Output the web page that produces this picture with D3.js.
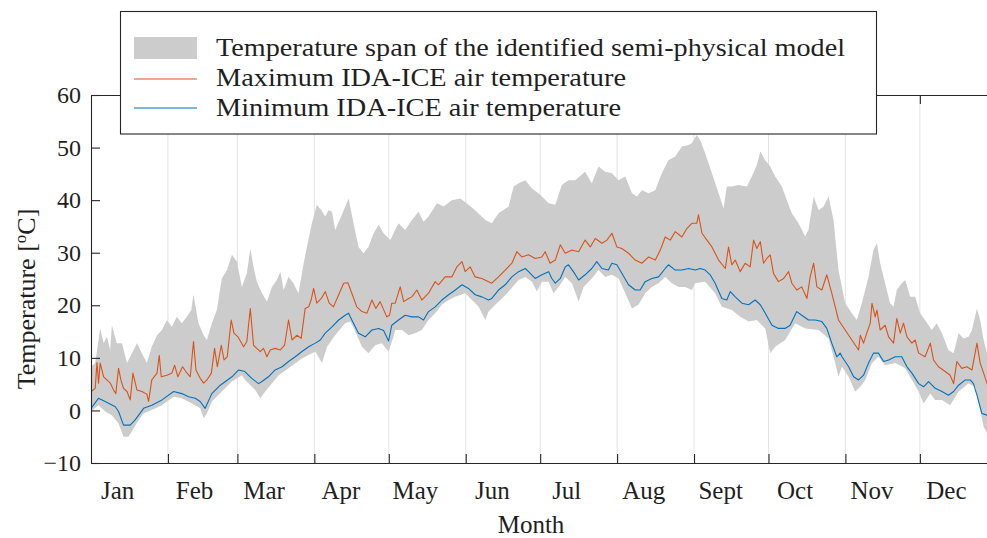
<!DOCTYPE html>
<html><head><meta charset="utf-8">
<script src="https://cdn.jsdelivr.net/npm/d3@7"></script>
<style>
html,body{margin:0;padding:0;background:#fff;}
svg{display:block;}
text{font-family:"Liberation Serif","Times New Roman",serif;fill:#1f1f1f;}
</style></head>
<body><svg id="chart" width="987" height="538"></svg>
<script>
const months = ["Jan","Feb","Mar","Apr","May","Jun","Jul","Aug","Sept","Oct","Nov","Dec"];
const monthStarts = [0,31,59,90,120,151,181,212,243,273,304,334];
const yTicks = [-10,0,10,20,30,40,50,60];
const legendLabels = ["Temperature span of the identified semi-physical model","Maximum IDA-ICE air temperature","Minimum IDA-ICE air temperature"];

// [day of year, °C]
const spanTop = [[0,8.3],[1.7,9.0],[3.7,15.6],[5.1,12.8],[6.4,14.0],[7.75,11.5],[8.4,16.2],[10.4,12.8],[12.5,12.8],[14.5,9.0],[16.5,10.9],[18.5,12.8],[21.2,10.2],[22.5,9.0],[24.5,12.1],[26.6,14.3],[28.6,15.3],[30.6,17.2],[32.6,15.9],[34.6,17.8],[36.6,16.6],[38.6,17.8],[40.4,19.1],[41.3,22.0],[43.3,16.6],[45.4,14.3],[46.7,13.4],[48.7,16.6],[50.7,19.1],[52.7,25.1],[54.8,26.7],[56.8,29.6],[58.8,28.3],[60.8,23.5],[62.8,26.1],[64.2,30.8],[65.5,27.3],[66.8,24.5],[68.9,22.3],[70.9,20.7],[72.9,23.5],[74.9,24.8],[76.3,26.4],[77.6,22.9],[79.6,25.4],[81.6,24.2],[83.6,22.3],[85.7,28.0],[87,31.1],[89,35.6],[91,39.1],[92.8,38.1],[94.4,36.9],[95.7,38.1],[97.1,37.8],[98.4,34.3],[101.1,37.2],[103.8,40.3],[105.8,35.6],[107.8,31.1],[109.8,29.9],[111.8,31.1],[113.9,33.7],[115.9,35.3],[117.9,33.7],[120.6,32.4],[123.9,35.6],[126.6,34.3],[129.3,36.2],[132,37.8],[134,35.9],[136,36.9],[139.4,39.4],[142.1,38.8],[145.4,40.0],[148.8,40.3],[152.1,39.1],[154.8,38.1],[158.9,36.2],[161.5,35.6],[164.2,37.5],[168.3,38.8],[170.3,42.6],[172.3,43.2],[175,43.8],[177.7,42.2],[180.3,41.3],[181.7,40.7],[184.4,39.4],[187.1,39.1],[189.7,42.9],[192.4,43.8],[195.1,43.8],[199.1,45.4],[201.8,43.2],[204.5,46.4],[207.2,45.4],[209.9,45.1],[212.6,43.8],[215.3,44.5],[218,41.3],[220,40.7],[222,41.9],[224.7,41.3],[227.4,41.9],[230,45.1],[232.7,47.6],[235.4,48.3],[238.1,50.2],[240.8,50.5],[242.1,50.8],[244.1,52.4],[245.5,51.4],[247.5,48.9],[250.2,45.1],[252.9,41.3],[254.9,38.4],[256.2,42.6],[258.2,42.6],[260.9,42.9],[264.3,42.6],[266.3,44.5],[268.3,46.7],[269.7,49.2],[271.7,47.6],[273.7,46.4],[275.7,44.5],[278.4,42.6],[280.4,40.0],[282.4,37.5],[285.1,35.6],[287.8,33.1],[289.1,34.3],[291.2,40.7],[293.2,38.1],[295.2,38.8],[297.2,40.7],[299.2,36.2],[301.2,26.7],[303.9,20.4],[306.6,18.5],[308.6,17.2],[310.6,20.4],[313.3,25.4],[315.3,30.5],[316.7,31.8],[318,28.0],[320,24.2],[322,20.4],[323.4,19.7],[324.7,22.9],[326.7,24.2],[328.1,24.8],[330.1,21.6],[332.1,21.6],[334.1,18.5],[336.1,17.2],[338.8,15.3],[340.8,16.6],[342.9,14.7],[345.5,11.5],[347.6,10.9],[349.6,14.7],[351.6,13.7],[353.6,14.0],[355,15.3],[357,19.4],[358.3,17.2],[359.7,13.4],[361.1,10.9],[365,10.0]];

const spanBottom = [[0,-0.2],[3.05,1.0],[5.7,-0.2],[8.4,-0.9],[11.1,-2.5],[13.1,-5.0],[15.1,-5.0],[17.2,-3.4],[19.2,-1.8],[21.2,-0.6],[24.5,0.1],[28.6,1.0],[33.3,2.6],[36.6,2.3],[40.7,1.3],[44,0.4],[45.4,-1.5],[46.7,-0.6],[48.7,1.7],[52.7,3.6],[56.8,5.5],[60.8,6.7],[62.1,5.8],[66.2,3.9],[68.2,2.3],[70.2,3.6],[72.9,5.1],[75.6,6.7],[79.6,8.0],[85,9.9],[90.4,11.2],[93.1,9.0],[95.1,12.1],[98.4,14.3],[102.4,16.6],[104.5,16.9],[106.5,15.0],[109.2,12.1],[111.8,10.9],[114.5,12.4],[117.2,12.8],[119.9,11.2],[121.9,14.0],[122.6,15.3],[125.3,15.3],[128,14.3],[130.6,14.7],[133.3,15.3],[136,17.2],[138.7,18.5],[141.4,20.1],[144.1,21.0],[146.8,21.6],[150.8,22.3],[153.5,21.0],[156.2,19.7],[158.9,17.2],[160.2,18.8],[162.9,20.1],[165.6,21.3],[168.3,22.6],[172.3,24.8],[175,25.4],[177.7,24.5],[179.7,22.6],[181.7,24.5],[184.4,24.5],[186.4,22.3],[188.4,23.5],[191.1,25.4],[193.8,24.2],[196.5,20.7],[198.5,23.5],[201.8,25.1],[204.5,26.7],[207.2,25.4],[209.9,25.8],[212.6,25.1],[215.3,22.3],[218,19.4],[220.6,20.1],[223.3,22.3],[226,23.5],[228.7,24.2],[231.4,25.4],[234.1,24.2],[236.8,23.5],[239.4,23.5],[242.1,22.9],[243.5,24.2],[247.5,24.5],[251.5,22.3],[254.2,19.7],[258.2,19.1],[261.6,17.8],[265,16.9],[268.3,17.2],[271.7,15.6],[273.7,10.9],[275.7,12.1],[279.7,13.4],[283.8,16.6],[287.8,15.6],[293.2,15.3],[297.2,13.7],[299.9,9.0],[301.2,6.4],[302.6,8.3],[305.3,6.4],[307.9,3.6],[310,4.5],[312,5.8],[314.7,9.0],[317.3,10.2],[320,8.6],[324.1,9.0],[328.1,8.0],[330.8,5.8],[333.5,3.6],[335.5,1.3],[338.2,3.2],[340.2,2.0],[342.9,2.0],[346.2,1.0],[349.6,3.6],[353.6,5.1],[356.3,4.5],[358.3,0.1],[359.7,-3.1],[361.1,-4.4],[365,-5.0]];

const maxAir = [[0.1,3.6],[1.7,4.2],[2.4,9.1],[3.05,5.2],[3.7,9.0],[5.1,6.4],[6.4,5.8],[7.75,5.2],[9.1,3.9],[10.0,3.2],[11.1,8.0],[12.05,5.8],[13.1,4.2],[14.5,3.6],[15.8,2.0],[16.9,7.1],[18.5,3.9],[20.5,3.6],[22.5,3.1],[23.2,1.7],[24.5,5.8],[26.6,7.1],[27.5,10.5],[28.3,6.4],[30.6,6.7],[32.6,7.1],[33.7,8.6],[35,6.4],[36.9,8.3],[38.2,7.4],[40,6.4],[41.3,13.1],[42.3,7.7],[44,6.1],[45.4,5.2],[46.7,5.8],[48.5,7.1],[49.8,11.8],[50.9,8.3],[52.5,12.4],[53.6,9.6],[54.9,10.2],[56.5,17.2],[57.6,14.7],[59.2,14.0],[61.5,12.1],[62.8,13.1],[64.2,19.4],[65.5,12.4],[66.8,11.8],[68.2,11.2],[69.5,11.8],[70.9,10.2],[72.2,11.5],[74.2,11.8],[76.3,11.5],[78,12.4],[79.6,17.2],[81,13.4],[83,14.3],[84.7,13.7],[86.3,19.4],[87.7,19.7],[88.7,21.0],[89.7,23.2],[91,20.4],[92.8,21.3],[94.4,22.6],[96,20.4],[97.7,19.7],[99.8,22.0],[101.8,24.2],[103.5,24.3],[105.1,22.3],[107.1,19.7],[109.2,18.8],[111.2,18.5],[113.2,21.0],[114.8,19.4],[116.5,20.7],[119.2,17.8],[120.3,18.1],[121.2,20.4],[122.6,20.4],[124.6,23.5],[126,20.7],[128,21.3],[129.3,21.6],[131.3,22.9],[133.3,21.0],[136,22.3],[138.7,24.5],[140,23.9],[142.7,25.4],[145.4,25.4],[147.4,27.3],[149.5,28.3],[150.8,26.4],[152.8,27.3],[154.8,25.4],[157.5,25.1],[160.2,24.5],[161.5,24.2],[164.2,25.4],[166.9,26.7],[169.6,28.0],[171.6,30.2],[173.6,29.2],[176.3,29.6],[179,28.9],[181.7,29.2],[183,30.2],[185,28.0],[187.1,28.6],[189.1,31.5],[191.1,29.9],[193.8,30.5],[196.5,30.2],[199.1,32.4],[201.2,31.1],[203.2,32.7],[205.9,31.8],[207.9,32.4],[209.9,33.7],[211.9,31.1],[213.9,30.8],[216.6,29.9],[219.3,28.6],[222,28.0],[224.7,29.2],[227.4,28.6],[229.4,30.5],[231.4,33.0],[233.4,32.4],[235.4,34.0],[238.1,33.0],[240.1,34.6],[242.1,35.6],[244.1,35.6],[244.8,37.2],[246.2,33.7],[248.2,32.4],[250.2,31.1],[252.9,28.6],[255.6,27.0],[256.9,31.1],[258.2,27.7],[259.6,28.6],[261.6,26.4],[263.6,28.0],[265.6,27.3],[267,32.4],[268.3,30.8],[269.7,32.1],[271,28.0],[272.3,28.9],[273.7,29.6],[275,26.1],[277,24.5],[279.1,25.1],[281.1,26.4],[282.4,24.2],[284.4,22.9],[286.4,23.5],[288.5,21.3],[289.8,25.4],[291.2,28.0],[292.5,23.5],[294.5,22.9],[296.5,25.8],[298.5,22.3],[299.9,19.7],[301.2,17.2],[303.9,15.3],[306.6,13.4],[309.3,11.5],[310,14.3],[311.3,12.8],[312.6,14.7],[314,16.6],[314.7,20.4],[316,17.8],[316.7,19.1],[318,15.3],[320,16.2],[321.4,14.0],[323.4,12.8],[324.7,17.5],[326.1,14.7],[327.4,16.6],[328.8,14.0],[330.8,12.8],[332.1,13.4],[333.5,10.9],[336.1,10.2],[338.2,12.8],[339.5,9.6],[341.5,8.3],[344.2,7.4],[346.2,6.7],[347.6,5.1],[348.9,9.3],[350.9,8.0],[352.9,8.3],[355,7.7],[357,12.8],[358.3,9.0],[359.7,7.1],[361.1,5.1],[365,4.5]];

const minAir = [[0,0.4],[3,2.3],[5.7,1.7],[9.8,0.7],[11.1,-0.2],[13.1,-2.8],[15.8,-2.8],[17.8,-1.8],[21.2,0.4],[24.5,1.0],[28.6,2.0],[33.3,3.6],[36.6,3.2],[39.3,2.6],[42,2.3],[44,1.7],[46,0.4],[48.7,3.2],[52.1,4.8],[56.8,6.4],[59.5,7.7],[62,7.4],[64.8,6.1],[67.5,5.1],[68.9,5.5],[71.5,6.4],[74.2,7.7],[77,8.3],[79.6,9.3],[82.3,10.2],[85,11.2],[87.7,12.1],[90.4,12.8],[92.4,13.4],[94.4,14.7],[97.1,15.9],[99.8,17.2],[102.4,18.1],[103.8,18.5],[105.1,17.2],[107.8,14.7],[110.5,14.0],[113.2,15.3],[115.9,15.6],[117.9,15.2],[119.9,13.2],[121.2,16.2],[123.9,17.2],[126.6,18.1],[129.3,17.8],[132,17.8],[134,17.2],[136,18.8],[138.7,19.7],[141.4,21.0],[144.1,22.0],[146.8,22.9],[149.5,23.9],[152.1,23.2],[154.8,22.0],[157.5,21.6],[160.2,21.0],[161.5,21.3],[164.2,22.9],[166.9,23.9],[169.6,25.4],[172.3,26.4],[175,27.0],[176.3,26.4],[179,25.1],[181.7,25.8],[184.4,26.4],[185.7,25.1],[187.1,24.2],[189.1,25.1],[191.1,27.3],[192.4,27.7],[194.4,26.4],[196.5,24.8],[199.1,25.8],[201.8,27.0],[203.8,28.3],[205.9,27.0],[208.5,26.7],[209.9,28.0],[211.9,27.7],[213.9,26.1],[216.6,23.9],[219.3,22.9],[221.3,22.9],[223.3,24.5],[226,25.1],[228.7,25.4],[231.4,27.0],[232.7,27.7],[235.4,26.7],[238.1,26.7],[240.8,27.0],[243.5,26.7],[245.5,27.0],[247.5,26.7],[249.5,25.8],[251.5,24.2],[254.2,21.3],[256.2,21.0],[257.6,22.6],[259.6,21.6],[262.3,20.4],[265,20.1],[267.6,21.0],[269.7,20.1],[271.7,18.5],[274.4,16.2],[277,15.6],[279.7,15.6],[281.7,16.2],[284.4,18.8],[286.4,18.1],[289.1,17.2],[291.8,17.2],[294.5,16.9],[296.5,15.6],[298.5,12.8],[300.5,10.2],[301.9,10.9],[302.6,10.2],[305.3,8.3],[307.3,6.4],[309.3,5.8],[311.3,6.7],[313.3,9.0],[315.3,10.9],[317.3,10.9],[319.4,9.3],[321.4,9.6],[324.1,10.2],[326.7,10.2],[328.8,8.3],[330.8,7.1],[333.5,5.1],[335.5,4.5],[337.5,5.5],[340.2,4.2],[342.9,3.6],[345.5,2.9],[347.6,3.6],[349.6,4.8],[352.3,5.8],[354.3,5.8],[355.6,5.1],[357,2.9],[359,-0.6],[361,-0.9],[365,-1.5]];

const svg = d3.select("#chart");
const W = 987, H = 538;
const plot = {left: 91, top: 95, bottom: 463, right: 987};
const x = d3.scaleLinear().domain([0, 365]).range([91, 996.8]);
const y = d3.scaleLinear().domain([-10, 60]).range([463, 95]);
const axisColor = "#262626";
const serif = "'Liberation Serif', 'Times New Roman', serif";

svg.append("rect").attr("width", W).attr("height", H).attr("fill", "#fff");
svg.append("defs").append("clipPath").attr("id", "clip")
  .append("rect").attr("x", plot.left).attr("y", plot.top)
  .attr("width", plot.right - plot.left).attr("height", plot.bottom - plot.top);

// vertical grid
svg.append("g").selectAll("line").data(monthStarts.slice(1)).join("line")
  .attr("x1", d => x(d)).attr("x2", d => x(d))
  .attr("y1", y(60)).attr("y2", y(-10))
  .attr("stroke", "#e3e3e3").attr("stroke-width", 1);

const g = svg.append("g").attr("clip-path", "url(#clip)");
const line = d3.line().x(d => x(d[0])).y(d => y(d[1]));
const bandPts = spanTop.concat(spanBottom.slice().reverse());
g.append("path").attr("d", line(bandPts) + "Z").attr("fill", "#cccccc").attr("stroke", "none");
g.append("path").attr("d", line(maxAir)).attr("fill", "none").attr("stroke", "#D95319").attr("stroke-width", 1.1).attr("stroke-linejoin", "round");
g.append("path").attr("d", line(minAir)).attr("fill", "none").attr("stroke", "#0072BD").attr("stroke-width", 1.1).attr("stroke-linejoin", "round");

// axes
function styleAxis(sel) {
  sel.attr("font-family", serif);
  sel.selectAll("path.domain").attr("stroke", axisColor).attr("stroke-width", 1.1);
  sel.selectAll(".tick line").attr("stroke", axisColor).attr("stroke-width", 1.1);
  sel.selectAll("text").attr("fill", "#1f1f1f").style("font-family", serif);
}
const yAxis = svg.append("g").attr("transform", `translate(${plot.left},0)`)
  .call(d3.axisLeft(y).tickValues(yTicks).tickSize(-9).tickSizeOuter(0).tickPadding(10).tickFormat(d3.format("d")));
yAxis.selectAll("text").style("font-size", "24px");
styleAxis(yAxis);

const xAxis = svg.append("g").attr("transform", `translate(0,${plot.bottom})`)
  .call(d3.axisBottom(x).tickValues(monthStarts.slice(1)).tickSize(-9).tickSizeOuter(0).tickFormat(""));
styleAxis(xAxis);
const topAxis = svg.append("g").attr("transform", `translate(0,${plot.top})`)
  .call(d3.axisTop(x).tickValues(monthStarts.slice(1)).tickSize(-9).tickSizeOuter(0).tickFormat(""));
styleAxis(topAxis);

const monthAxis = svg.append("g").attr("transform", `translate(0,${plot.bottom})`)
  .call(d3.axisBottom(x).tickValues(monthStarts.map(d => d + 10.5)).tickSize(0).tickPadding(18)
    .tickFormat((d, i) => months[i]));
monthAxis.select("path.domain").remove();
monthAxis.selectAll("text").style("font-size", "25px");
styleAxis(monthAxis);

svg.append("text").attr("x", 531).attr("y", 533).attr("text-anchor", "middle")
  .style("font-family", serif).style("font-size", "25px").text("Month");
const yl = svg.append("text").attr("transform", "translate(35,299) rotate(-90)")
  .attr("text-anchor", "middle").style("font-family", serif).style("font-size", "26px");
yl.append("tspan").text("Temperature [");
yl.append("tspan").attr("dy", -9).style("font-size", "17px").text("o");
yl.append("tspan").attr("dy", 9).text("C]");

// legend
const lg = svg.append("g");
lg.append("rect").attr("x", 120.5).attr("y", 11.5).attr("width", 756).attr("height", 122.5)
  .attr("fill", "#fff").attr("stroke", axisColor).attr("stroke-width", 1.1);
lg.append("rect").attr("x", 134).attr("y", 37).attr("width", 63).attr("height", 22).attr("fill", "#cccccc");
lg.append("line").attr("x1", 134).attr("x2", 197).attr("y1", 79).attr("y2", 79).attr("stroke", "#D95319").attr("stroke-width", 1.2);
lg.append("line").attr("x1", 134).attr("x2", 197).attr("y1", 108).attr("y2", 108).attr("stroke", "#0072BD").attr("stroke-width", 1.2);
const legW = [629, 410, 405];
lg.selectAll("text.leg").data(legendLabels).join("text").attr("class", "leg")
  .attr("x", 216).attr("y", (d, i) => 56 + i * 30)
  .attr("textLength", (d, i) => legW[i]).attr("lengthAdjust", "spacingAndGlyphs")
  .style("font-family", serif).style("font-size", "26px").text(d => d);
</script></body></html>
